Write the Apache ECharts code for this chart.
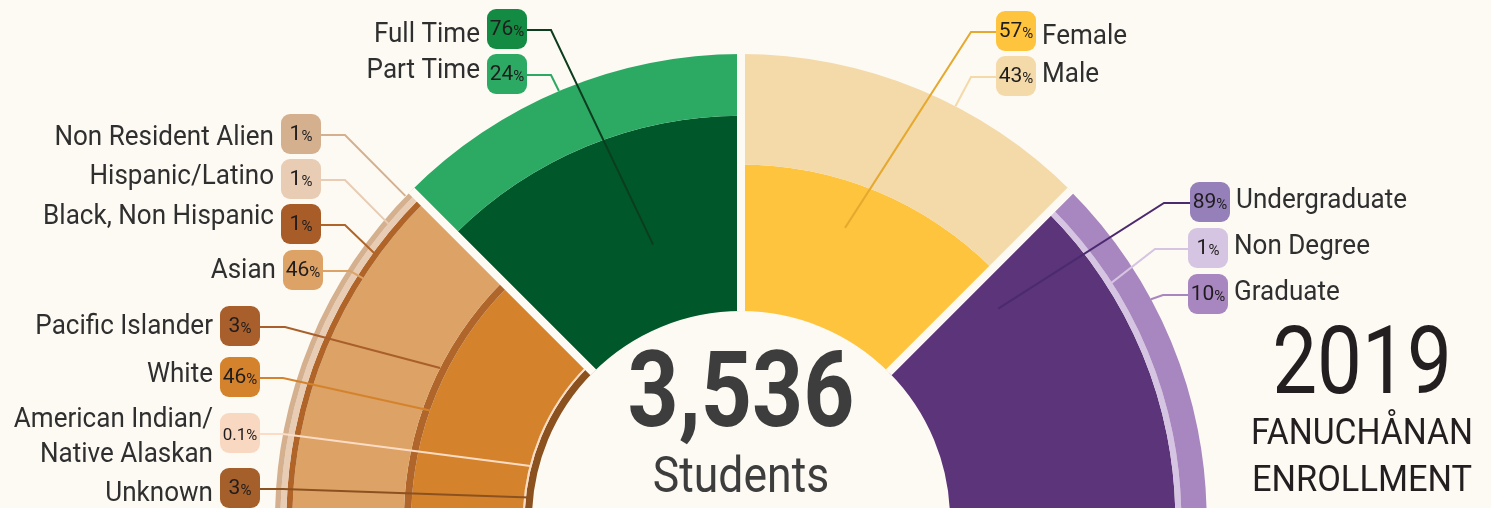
<!DOCTYPE html>
<html>
<head>
<meta charset="utf-8">
<title>Fanuchånan Enrollment 2019</title>
<script src="https://cdn.jsdelivr.net/npm/echarts@6/dist/echarts.min.js"></script>
<style>
html, body { margin: 0; padding: 0; background: #fdfaf3; }
#chart { width: 1491px; height: 508px; }
</style>
</head>
<body>
<div id="chart"></div>
<script>
// percent of students, inner band first
var ethnicityNames = ['Unknown', 'American Indian/\nNative Alaskan', 'White', 'Pacific Islander', 'Asian', 'Black, Non Hispanic', 'Hispanic/Latino', 'Non Resident Alien'];
var ethnicityValues = [3, 0.1, 46, 3, 46, 1, 1, 1];
var statusNames = ['Full Time', 'Part Time'];
var statusValues = [76, 24];
var genderNames = ['Female', 'Male'];
var genderValues = [57, 43];
var degreeNames = ['Undergraduate', 'Non Degree', 'Graduate'];
var degreeValues = [89, 1, 10];
var totalStudents = 3536;
var yearText = '2019';
var titleLines = ['FANUCHÅNAN', 'ENROLLMENT'];

var bg = '#fdfaf3';
var cx = 741, cy = 520;
var chart = echarts.init(document.getElementById('chart'));

// pos: badge edge x, badge centre y, elbow x, anchor angle, anchor depth in band, name centre y
var groups = [
    {
        names: ethnicityNames, values: ethnicityValues, from: 180, to: 135, max: 106, side: 'left',
        colors: ['#8b5220', '#fcdcc4', '#d4832c', '#b0652a', '#dda265', '#b06428', '#e8ccb4', '#d4b08f'],
        badges: ['#a45f2b', '#f9d8c2', '#d4832c', '#a85f2b', '#dda265', '#a85c28', '#e8ccb4', '#d4b08f'],
        lines: ['#8b5220', '#fcdcc4', '#d4832c', '#a85f2b', '#dda265', '#b06428', '#e8ccb4', '#d4b08f'],
        pos: [[260, 488, 283, 173.9, 0.5, 491.5], [260, 433, 283, 165.6, 0.5, 435.5], [260, 377, 283, 160.6, 1, 373],
              [260, 326, 285, 153.2, 1, 325], [323, 270, 350, 147.4, 1, 268.5], [321, 224, 345, 144, 0.5, 215],
              [321, 179, 345, 140, 0.5, 175], [321, 134, 345, 136, 1, 135.5]]
    },
    {
        names: statusNames, values: statusValues, from: 135, to: 90, max: 100, side: 'left',
        colors: ['#00582a', '#2caa63'],
        badges: ['#138b42', '#2caa63'],
        lines: ['#0b3d1e', '#2caa63'],
        pos: [[527, 29, 551, 107.7, 0.41, 33.3], [527, 74, 551, 113, 1, 68.7]]
    },
    {
        names: genderNames, values: genderValues, from: 90, to: 45, max: 100, side: 'right',
        colors: ['#ffc43d', '#f4d9a9'],
        badges: ['#ffc43d', '#f4d9a9'],
        lines: ['#e6a92f', '#f4d9a9'],
        pos: [[996, 31, 971, 70.4, 0.69, 35], [996, 76, 971, 62.6, 1, 72.5]]
    },
    {
        names: degreeNames, values: degreeValues, from: 45, to: 0, max: 101.5, side: 'right',
        colors: ['#5b3479', '#d5c4e2', '#a886c0'],
        badges: ['#9580b9', '#d5c4e2', '#a886c0'],
        lines: ['#4b2a6f', '#d5c4e2', '#a886c0'],
        pos: [[1190, 202, 1164, 39.4, 0.55, 198.7], [1188, 248, 1155, 32.6, 0.5, 245.3], [1188, 294, 1163, 28.3, 1, 291.3]]
    }
];

function minHeight(v) {
    return v < 0.5 ? 2 : 6;
}

var polars = [], angleAxes = [], radiusAxes = [], series = [];
groups.forEach(function (g, gi) {
    polars.push({ center: [cx, cy], radius: [209, 466] });
    angleAxes.push({
        polarIndex: gi, type: 'category', data: ['s' + gi],
        startAngle: g.from, endAngle: g.to, boundaryGap: true,
        axisLine: { show: false }, axisTick: { show: false }, axisLabel: { show: false },
        splitLine: { show: true, lineStyle: { color: bg, width: 8 } },
        z: 10
    });
    radiusAxes.push({
        polarIndex: gi, type: 'value', min: 0, max: g.max,
        axisLine: { show: false }, axisTick: { show: false }, axisLabel: { show: false }, splitLine: { show: false }
    });
    g.values.forEach(function (v, k) {
        var p = g.pos[k];
        series.push({
            type: 'bar',
            coordinateSystem: 'polar',
            polarIndex: gi,
            stack: 'g' + gi,
            name: g.names[k],
            data: [v],
            barCategoryGap: '0%',
            barMinHeight: minHeight(v),
            silent: true,
            itemStyle: { color: g.colors[k] },
            label: {
                show: true,
                formatter: function (params) {
                    var s = String(params.value);
                    return (s.length > 2 ? '{s|' : '{v|') + s + '}{p|%}';
                },
                width: 40,
                padding: [9, 0, 9, 0],
                backgroundColor: g.badges[k],
                borderRadius: 9,
                rich: {
                    v: { fontSize: 21, fontFamily: 'Roboto', color: '#1f1c1d', align: 'center', verticalAlign: 'bottom', lineHeight: 22 },
                    s: { fontSize: 17, fontFamily: 'Roboto', color: '#1f1c1d', align: 'center', verticalAlign: 'bottom', lineHeight: 22 },
                    p: { fontSize: 15, fontFamily: 'Roboto', color: '#1f1c1d', align: 'center', verticalAlign: 'bottom', lineHeight: 22 }
                }
            },
            labelLayout: {
                x: p[0], y: p[1], rotate: 0,
                align: g.side === 'left' ? 'right' : 'left',
                verticalAlign: 'middle'
            }
        });
    });
});

chart.setOption({
    backgroundColor: bg,
    animation: false,
    polar: polars,
    angleAxis: angleAxes,
    radiusAxis: radiusAxes,
    series: series
});

// leader lines and category names, anchored through the polar scales
var graphics = [];
groups.forEach(function (g, gi) {
    function pxRadius(v) {
        var pt = chart.convertToPixel({ polarIndex: gi }, [v, 0]);
        return Math.sqrt((pt[0] - cx) * (pt[0] - cx) + (pt[1] - cy) * (pt[1] - cy));
    }
    var base = pxRadius(0);
    var r0 = base;
    g.values.forEach(function (v, k) {
        var span = Math.max(pxRadius(v) - base, minHeight(v));
        var p = g.pos[k];
        var r = r0 + span * p[4];
        var a = p[3] * Math.PI / 180;
        var end = [cx + r * Math.cos(a), cy - r * Math.sin(a)];
        r0 += span;
        var ly = p[1] + 1;
        graphics.push({
            type: 'polyline', silent: true, z: 50,
            shape: { points: [[p[0], ly], [p[2], ly], end] },
            style: { stroke: g.lines[k], lineWidth: 2, fill: null }
        });
        var left = g.side === 'left';
        graphics.push({
            type: 'text', silent: true, z: 50,
            x: left ? p[0] - 47 : p[0] + 46,
            y: p[5] + 2,
            scaleX: 0.93,
            style: {
                text: g.names[k], fill: '#2f2f2f',
                font: '28px Roboto', lineHeight: 35,
                align: left ? 'right' : 'left', verticalAlign: 'middle'
            }
        });
    });
});

graphics.push({
    type: 'text', silent: true, x: 741, y: 400, scaleX: 0.85,
    style: { text: totalStudents.toLocaleString('en-US'), fill: '#3d3d3d', font: 'bold 105px Roboto', align: 'center', verticalAlign: 'middle' }
});
graphics.push({
    type: 'text', silent: true, x: 741, y: 479, scaleX: 0.89,
    style: { text: 'Students', fill: '#3d3d3d', font: '50px Roboto', align: 'center', verticalAlign: 'middle' }
});
graphics.push({
    type: 'text', silent: true, x: 1362, y: 369, scaleX: 0.85,
    style: { text: yearText, fill: '#231f20', font: '94px Roboto', align: 'center', verticalAlign: 'middle' }
});
graphics.push({
    type: 'text', silent: true, x: 1362, y: 435, scaleX: 0.91,
    style: { text: titleLines[0], fill: '#231f20', font: '37px Roboto', align: 'center', verticalAlign: 'middle' }
});
graphics.push({
    type: 'text', silent: true, x: 1362, y: 482, scaleX: 0.93,
    style: { text: titleLines[1], fill: '#231f20', font: '37px Roboto', align: 'center', verticalAlign: 'middle' }
});

chart.setOption({ graphic: graphics });
</script>
</body>
</html>
